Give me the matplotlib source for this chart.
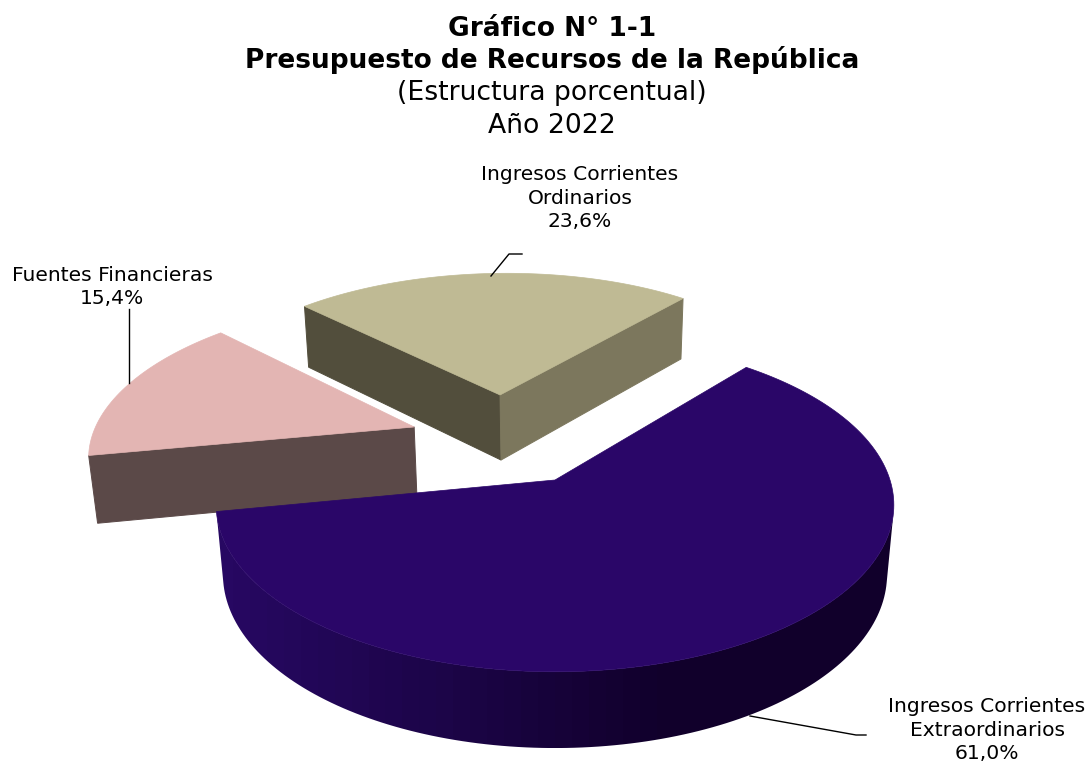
import numpy as np
import matplotlib
matplotlib.use("Agg")
import matplotlib.pyplot as plt
from matplotlib.colors import LinearSegmentedColormap
from matplotlib.patches import Polygon

categorias = ["Ingresos Corrientes\nOrdinarios", "Ingresos Corrientes\nExtraordinarios", "Fuentes Financieras"]
valores = [23.6, 61.0, 15.4]
etiquetas = ["23,6%", "61,0%", "15,4%"]

# explosion de cada porcion en el plano de la torta
separacion = [(-0.178, 0.566), (0.0, 0.0), (-0.442, 0.342)]
color_tapa = ["#BFBA94", "#2A0668", "#E3B5B3"]
color_corte = [("#524E3C", "#7C775D"), ("#1A0545", "#1A0545"), ("#5B4948", "#5B4948")]
orden_dibujo = [0, 2, 1]
inicio = 135.4

CX, CY, RX, RY = 555.0, 480.0, 335.0, 163.0
K, M, H = 0.15, 0.02, 70.2


def proyectar(u, v, abajo=False):
    # perspectiva simple: el fondo de la torta se ve mas chico
    w = 1 + K * v + (M if abajo else 0)
    alto = H if abajo else 0
    return CX + RX * u / w, CY - (RY * v - alto) / w


fig = plt.figure(figsize=(10.9, 7.62), dpi=100)
ax = fig.add_axes([0, 0, 1, 1])
ax.axis("off")

cmap_lado = LinearSegmentedColormap.from_list("lado", ["#270862", "#1C0548", "#11002B", "#11002B"])
angulos = inicio - np.cumsum([0] + valores) * 3.6

z = 1
for i in orden_dibujo:
    du, dv = separacion[i]
    t = np.radians(np.linspace(angulos[i], angulos[i + 1], max(int(valores[i] * 3), 8)))
    u = np.concatenate([[0], np.cos(t)]) + du
    v = np.concatenate([[0], np.sin(t)]) + dv
    xa, ya = proyectar(u, v)
    xb, yb = proyectar(u, v, True)
    n = len(u)
    # caras laterales, solo las que miran a la camara
    visibles = []
    for j in range(n):
        k = (j + 1) % n
        cara = [(xa[j], ya[j]), (xa[k], ya[k]), (xb[k], yb[k]), (xb[j], yb[j])]
        px = np.array([c[0] for c in cara])
        py = np.array([c[1] for c in cara])
        area = np.sum(px * np.roll(py, -1) - np.roll(px, -1) * py)
        if area >= 0:
            continue
        if 0 < j < n - 1:
            visibles.append(j)
        col = color_corte[i][1] if j == n - 1 else color_corte[i][0]
        if i != 1:
            ax.add_patch(Polygon(cara, closed=True, facecolor=col, edgecolor=col, linewidth=0.7, zorder=z))
    if i == 1:
        # lado curvo con degradado de izquierda a derecha
        idx = visibles + [visibles[-1] + 1]
        borde = np.column_stack([np.r_[xa[idx], xb[idx][::-1]], np.r_[ya[idx], yb[idx][::-1]]])
        silueta = Polygon(borde, closed=True, transform=ax.transData, facecolor="none", edgecolor="none")
        ax.add_patch(silueta)
        im = ax.imshow(np.linspace(0, 1, 40).reshape(1, -1), cmap=cmap_lado, aspect="auto",
                       extent=[borde[:, 0].min(), borde[:, 0].max(), borde[:, 1].max(), borde[:, 1].min()],
                       zorder=z, interpolation="nearest")
        im.set_clip_path(silueta)
    z += 1
    ax.add_patch(Polygon(np.column_stack([xa, ya]), closed=True, facecolor=color_tapa[i], edgecolor=color_tapa[i], linewidth=0.5, zorder=z))
    z += 1

ax.set_xlim(0, 1090)
ax.set_ylim(762, 0)

# lineas guia
ax.plot([491, 509, 522], [276, 254, 254], color="black", lw=1, zorder=z)
ax.plot([129, 129], [383, 309], color="black", lw=1, zorder=z)
ax.plot([750, 856, 866], [716, 735, 735], color="black", lw=1, zorder=z)

# etiquetas
ax.text(580, 198, categorias[0] + "\n" + etiquetas[0], ha="center", va="center", fontsize=14.6, linespacing=1.29)
ax.text(112, 287, categorias[2] + "\n" + etiquetas[2], ha="center", va="center", fontsize=14.6, linespacing=1.29)
ax.text(987, 730, categorias[1] + "\n" + etiquetas[1], ha="center", va="center", fontsize=14.6, linespacing=1.29)

# titulo
ax.text(552, 36, "Gráfico N° 1-1", ha="center", va="baseline", fontsize=19, fontweight="bold")
ax.text(552, 68, "Presupuesto de Recursos de la República", ha="center", va="baseline", fontsize=19, fontweight="bold")
ax.text(552, 100, "(Estructura porcentual)", ha="center", va="baseline", fontsize=19.2)
ax.text(552, 133, "Año 2022", ha="center", va="baseline", fontsize=19.2)

fig.savefig("out.png", dpi=100)
